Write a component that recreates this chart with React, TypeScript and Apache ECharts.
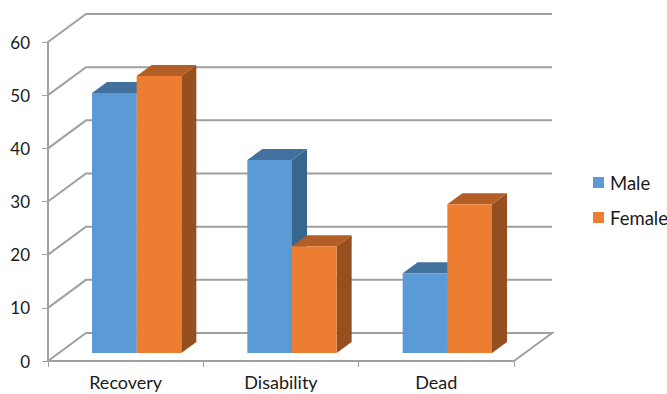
import React, { useEffect, useRef } from "react";
import * as echarts from "echarts";

const categories = ["Recovery", "Disability", "Dead"];
const maleValues = [48.9, 36.3, 15];
const femaleValues = [52.1, 20.1, 28];
const wallTicks = [0, 10, 20, 30, 40, 50, 60];

const WALL = "#a0a0a0";
const INK = "#1a1a1a";
const FONT = "Lato, 'Open Sans', sans-serif";
const DEPTH_X = 38;
const DEPTH_Y = 28;
const BAR_DEPTH_X = 15;
const BAR_DEPTH_Y = 11;
const BAR_LIFT = 8;
const BAR_SHIFT = 11;

// Back wall and floor of the 3D frame, one polyline per value tick.
const renderWall = (params: any, api: any) => {
  const value = api.value(0);
  const cs = params.coordSys;
  const y = api.coord([0, value])[1];
  const xl = cs.x;
  const xr = cs.x + cs.width;
  const lineStyle = { stroke: WALL, lineWidth: 2, fill: "none" };
  const backPoints = [
    [xl, y],
    [xl + DEPTH_X, y - DEPTH_Y],
    [xr + DEPTH_X, y - DEPTH_Y],
  ];
  if (value === 0) backPoints.push([xr, y]);
  return {
    type: "polyline",
    shape: { points: backPoints },
    style: lineStyle,
    silent: true,
  };
};

// A box with a front face, a top and a right side; offset is -1 for the left bar of a pair, 0 for the right.
const boxRenderer = (offset: number, front: string, top: string, side: string) => (_p: any, api: any) => {
  const catIdx = api.value(0);
  const val = api.value(1);
  const [cx, yTopRaw] = api.coord([catIdx, val]);
  const yBaseRaw = api.coord([catIdx, 0])[1];
  const w = api.size([1, 0])[0] * 0.2875;
  const x0 = cx + BAR_SHIFT + offset * w;
  const x1 = x0 + w;
  const yT = yTopRaw - BAR_LIFT;
  const yB = yBaseRaw - BAR_LIFT;
  return {
    type: "group",
    children: [
      {
        type: "polygon",
        shape: { points: [[x1, yT], [x1 + BAR_DEPTH_X, yT - BAR_DEPTH_Y], [x1 + BAR_DEPTH_X, yB - BAR_DEPTH_Y], [x1, yB]] },
        style: { fill: side },
      },
      {
        type: "polygon",
        shape: { points: [[x0, yT], [x0 + BAR_DEPTH_X, yT - BAR_DEPTH_Y], [x1 + BAR_DEPTH_X, yT - BAR_DEPTH_Y], [x1, yT]] },
        style: { fill: top },
      },
      { type: "rect", shape: { x: x0, y: yT, width: w, height: yB - yT }, style: { fill: front } },
    ],
  };
};

export default function App() {
  const ref = useRef<HTMLDivElement>(null);
  useEffect(() => {
    const chart = echarts.init(ref.current!, undefined, { renderer: "svg" });
    chart.setOption({
      animation: false,
      backgroundColor: "#fff",
      grid: { left: 48, right: 153, top: 42, bottom: 33, outerBoundsMode: "none" },
      legend: {
        data: ["Male", "Female"],
        orient: "vertical",
        left: 588,
        top: 168,
        itemWidth: 11,
        itemHeight: 11,
        itemGap: 16,
        icon: "rect",
        textStyle: { fontFamily: FONT, fontSize: 18.5, color: INK, padding: [0, 0, 0, 1] },
      },
      xAxis: {
        type: "category",
        data: categories,
        axisLine: { lineStyle: { color: WALL, width: 2 } },
        axisTick: { show: true, length: 6, lineStyle: { color: WALL, width: 1 } },
        axisLabel: { fontFamily: FONT, fontSize: 18, color: INK, margin: 12 },
        splitLine: { show: false },
      },
      yAxis: {
        type: "value",
        min: 0,
        max: 60,
        interval: 10,
        axisLine: { show: true, lineStyle: { color: WALL, width: 2 } },
        axisTick: { show: true, length: 6, lineStyle: { color: WALL, width: 1 } },
        axisLabel: { fontFamily: FONT, fontSize: 17, color: INK, margin: 18 },
        splitLine: { show: false },
      },
      series: [
        {
          type: "custom",
          name: "wall",
          clip: false,
          silent: true,
          z: 1,
          data: wallTicks.map((v) => [v]),
          encode: { y: 0 },
          renderItem: renderWall,
        },
        {
          type: "custom",
          name: "Male",
          clip: false,
          z: 2,
          itemStyle: { color: "#5b9bd5" },
          data: maleValues.map((v, i) => [i, v]),
          encode: { x: 0, y: 1 },
          renderItem: boxRenderer(-1, "#5b9bd5", "#41719c", "#37678f"),
        },
        {
          type: "custom",
          name: "Female",
          clip: false,
          z: 3,
          itemStyle: { color: "#ed7d31" },
          data: femaleValues.map((v, i) => [i, v]),
          encode: { x: 0, y: 1 },
          renderItem: boxRenderer(0, "#ed7d31", "#b25e26", "#964f1e"),
        },
      ],
    });
    return () => chart.dispose();
  }, []);
  return <div ref={ref} style={{ position: "absolute", left: 0, top: 0, width: 667, height: 394 }} />;
}
